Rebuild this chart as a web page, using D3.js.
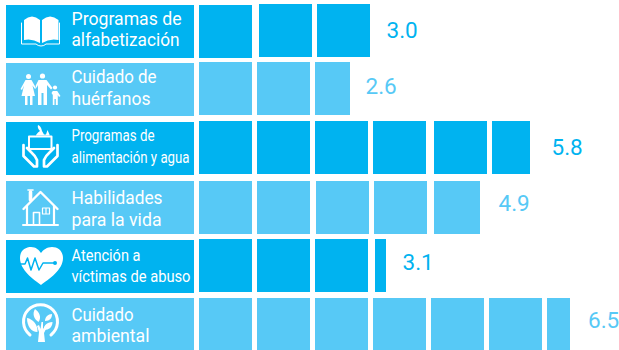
<!DOCTYPE html>
<html>
<head>
<meta charset="utf-8">
<script src="https://d3js.org/d3.v7.min.js"></script>
<style>
html, body { margin: 0; padding: 0; background: #fff; overflow: hidden; }
svg { display: block; }
text { font-family: Roboto, sans-serif; }
</style>
</head>
<body>
<svg id="chart" width="619" height="350"></svg>
<script>
'use strict';

var categories = ['alfabetizacion', 'huerfanos', 'alimentacion', 'habilidades', 'abuso', 'ambiental'];
var labelFirst = ['Programas de', 'Cuidado de', 'Programas de', 'Habilidades', 'Atención a', 'Cuidado'];
var labelSecond = ['alfabetización', 'huérfanos', 'alimentación y agua', 'para la vida', 'víctimas de abuso', 'ambiental'];
var valueLabels = ['3.0', '2.6', '5.8', '4.9', '3.1', '6.5'];
// bar length as drawn, counted in squares (does not quite follow the printed value)
var barLengths = [3, 2.66, 5.72, 4.87, 3.21, 6.43];

var DARK = '#00b3f0', LIGHT = '#57c9f6';
var CELL = 53, LABEL_X = 6, LABEL_W = 188;

var svg = d3.select('#chart');

var y = d3.scaleBand().domain(categories).range([5, 351]).paddingInner(5.6 / 58.6).paddingOuter(0);
var x = d3.scaleLinear().domain([0, 1]).range([199, 257]);
var w = d3.scaleLinear().domain([0, 1]).range([0, CELL]);

// the source artwork is hand placed, these are its small offsets per row
var labelDy = [0, 0, 0, 1, 1, 0];
var barDy = [-1, -1, -1, 1, 0, 0];
var valueGap = [16.500, 15.500, 21.500, 18.500, 16.500, 18];
var valueDy = [0, -2, 0, -2, -2, -3];
var cellDx = { '0-1': 2, '0-2': 2, '2-4': 3, '2-5': 3, '3-2': 1, '3-3': 1, '3-4': 3, '4-3': 2 };
var cellDy = { '0-0': 1 };

function colorOf (i) {
    return i % 2 === 0 ? DARK : LIGHT;
}

function rowTop (i) {
    return Math.floor(y(categories[i]));
}

var rows = svg.selectAll('g.row')
    .data(categories)
    .enter()
    .append('g')
    .attr('class', 'row');

rows.append('rect')
    .attr('x', LABEL_X)
    .attr('y', function (d, i) { return rowTop(i) + labelDy[i]; })
    .attr('width', LABEL_W)
    .attr('height', CELL)
    .attr('fill', function (d, i) { return colorOf(i); });

rows.each(function (d, i) {
    var cells = d3.range(Math.ceil(barLengths[i])).map(function (k) {
        return { row: i, k: k, frac: Math.min(1, barLengths[i] - k) };
    });
    d3.select(this).selectAll('rect.cell')
        .data(cells)
        .enter()
        .append('rect')
        .attr('class', 'cell')
        .attr('x', function (c) { return x(c.k) + (cellDx[c.row + '-' + c.k] || 0); })
        .attr('y', function (c) { return rowTop(c.row) + barDy[c.row] + (cellDy[c.row + '-' + c.k] || 0); })
        .attr('width', function (c) { return Math.round(w(c.frac)); })
        .attr('height', CELL)
        .attr('fill', colorOf(i));

    var last = cells[cells.length - 1];
    var end = x(last.k) + (cellDx[i + '-' + last.k] || 0) + Math.round(w(last.frac));
    d3.select(this).append('text')
        .attr('x', end + valueGap[i])
        .attr('y', rowTop(i) + 33 + valueDy[i])
        .attr('font-size', 22.500)
        .attr('fill', colorOf(i))
        .text(valueLabels[i]);
});

// label text, squeezed to the measured line widths since the DIN face is not available
var labelSize = [17.500, 17.500, 16, 17.500, 16.500, 17.500];
var labelFit = [[110, 108], [85, 79], [83, 118], [91, 90], [69, 119], [62, 78]];
var labelBase = [[20, 41], [20, 42], [19, 41], [23, 45], [21, 42], [23, 44]];

rows.each(function (d, i) {
    var g = d3.select(this);
    var t = rowTop(i) + labelDy[i];
    [labelFirst[i], labelSecond[i]].forEach(function (line, n) {
        g.append('text')
            .attr('x', 71.500)
            .attr('y', t + labelBase[i][n])
            .attr('font-size', labelSize[i])
            .attr('textLength', labelFit[i][n])
            .attr('lengthAdjust', 'spacingAndGlyphs')
            .attr('fill', '#fff')
            .text(line);
    });
});

// icons, hand traced in page coordinates
var icons = svg.append('g');

function fillPath (d, color) {
    icons.append('path').attr('d', d).attr('fill', color || '#fff');
}
function strokePath (d, sw, color) {
    icons.append('path').attr('d', d)
        .attr('fill', 'none')
        .attr('stroke', color || '#fff')
        .attr('stroke-width', sw)
        .attr('stroke-linejoin', 'round')
        .attr('stroke-linecap', 'round');
}
function dot (cx, cy, r, color) {
    icons.append('circle').attr('cx', cx).attr('cy', cy).attr('r', r).attr('fill', color || '#fff');
}

// book
fillPath('M24 20Q32 13 40 20V43Q32 38 24 40Z');
fillPath('M42 20Q50 13 58.500 20V40Q50 38 42 43Z');
strokePath('M21.500 23V44H36Q38 46 41 46Q44 46 46 44H59.500V23', 1);

// family
dot(28.500, 76.500, 2.500);
dot(42.500, 76, 2.600);
dot(55, 87.500, 2.100);
fillPath('M25.500 80H31.500L36 88L35 89L32.500 85.500L35 96H32.500V105H30V96H27.500V105H25V96H21.500L24 85.500L22 90L20.500 89Z');
fillPath('M38.500 80H46.500L52.500 88L51 89.500L47 85V105H43.500V93H41.500V105H38V85L36.500 88L35.500 86Z');
fillPath('M52.800 91H57.200L60.500 96L59 97L57.800 95V105H55.800V99H54.500V105H52.800V95L51.500 93Z');

// hands holding a box
strokePath('M29 136.500H51.500V149H29Z', 2);
fillPath('M36 135Q38 132 40 131Q37 128 38 125Q41 126 42 131L44 134.500H46L47.500 130L49.500 134.500V135.500H36Z');
strokePath('M23.500 145V156L34 166.500H37V160Q35.500 156 31 152L27 148', 2.700);
strokePath('M57.500 145V156L47 166.500H44V160Q45.500 156 50 152L54 148', 2.700);

// house
strokePath('M23.500 209L40.500 192L57.500 209', 2.400);
strokePath('M27 206V225M54 206V225', 2.200);
strokePath('M23 225H58', 2);
strokePath('M30.500 200V192', 3.600);
strokePath('M28 190H33', 1.600);
strokePath('M33.500 225V212.500H39.500V225', 1.600);
strokePath('M42.500 208H49.500V214H42.500ZM46 208V214', 1.200);

// heart with pulse line
fillPath('M41 285C33 279 20 270 20 258C20 250 26 247 31 247C36 247 39 250 41 253C43 250 47 247 52 247C58 247 63 251 63 258C63 270 49 279 41 285Z');
strokePath('M21 264H25L27.500 258L31 270L35 258L39 270L43 263H54', 1.500, DARK);
dot(55, 263, 2, DARK);

// tree in a broken ring
strokePath('M30 335A17 17 0 1 1 51 335', 3);
fillPath('M38 342L39 332L37 326L39 325L40.500 329L41.500 322H43L43 329L46 325L47.500 326L44 333L45 342Z');
fillPath('M37.500 332C31 332 27 326 27 318C33 319 38 325 37.500 332Z');
fillPath('M38.500 322C34 319 32 314 35 309C39 312 42 317 38.500 322Z');
fillPath('M45 321C45 317 48 314 52 314C52 318 50 321 45 321Z');
fillPath('M44 330C43 326 47 322 52.500 322C52.500 327 49 330 44 330Z');
</script>
</body>
</html>
